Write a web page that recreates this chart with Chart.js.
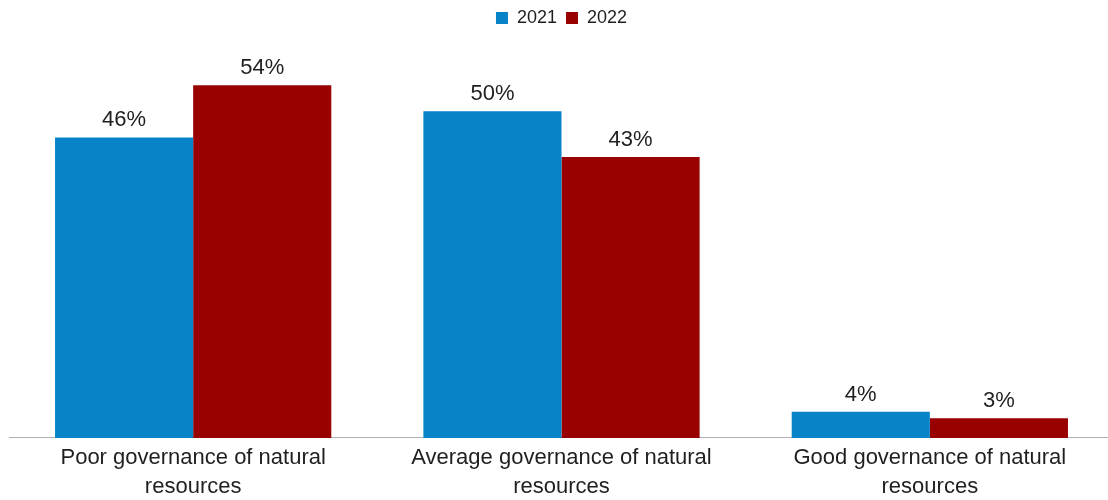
<!DOCTYPE html>
<html>
<head>
<meta charset="utf-8">
<script src="https://cdn.jsdelivr.net/npm/chart.js@4"></script>
<style>
    html, body { margin: 0; padding: 0; background: #fff; overflow: hidden; }
    #wrap { position: relative; width: 1114px; height: 500px; }
</style>
</head>
<body>
<div id="wrap"><canvas id="canvas"></canvas></div>
<script>
const categories = [
    ['Poor governance of natural', 'resources'],
    ['Average governance of natural', 'resources'],
    ['Good governance of natural', 'resources']
];
const years = ['2021', '2022'];
const values2021 = [46, 50, 4];
const values2022 = [54, 43, 3];

const fontFamily = '"Liberation Sans", Arial, sans-serif';
const textColor = '#1f1f1f';

// writes the percentage above every bar
const barLabels = {
    id: 'barLabels',
    afterDatasetsDraw(chart) {
        const ctx = chart.ctx;
        ctx.save();
        ctx.font = `22px ${fontFamily}`;
        ctx.fillStyle = textColor;
        ctx.textAlign = 'center';
        ctx.textBaseline = 'alphabetic';
        chart.data.datasets.forEach((ds, i) => {
            chart.getDatasetMeta(i).data.forEach((bar, j) => {
                ctx.fillText(`${ds.data[j]}%`, bar.x, bar.y - 11);
            });
        });
        ctx.restore();
    }
};

// a bit more room under the legend
const legendSpace = {
    id: 'legendSpace',
    beforeInit(chart) {
        const origFit = chart.legend.fit;
        chart.legend.fit = function () {
            origFit.bind(chart.legend)();
            this.height += 9;
        };
    }
};

const data = {
    labels: categories,
    datasets: [
        {
            label: years[0],
            backgroundColor: '#0784c7',
            data: values2021
        },
        {
            label: years[1],
            backgroundColor: '#990000',
            data: values2022
        }
    ]
};

const options = {
    animation: false,
    responsive: true,
    maintainAspectRatio: false,
    layout: {
        padding: { left: 9, right: 0, top: 0, bottom: -6 }
    },
    datasets: {
        bar: {
            categoryPercentage: 0.75,
            barPercentage: 1
        }
    },
    plugins: {
        legend: {
            position: 'top',
            labels: {
                boxWidth: 12,
                boxHeight: 12,
                padding: 9,
                color: textColor,
                font: { family: fontFamily, size: 18 }
            }
        },
        tooltip: { enabled: false }
    },
    scales: {
        x: {
            grid: { display: false, drawTicks: false },
            border: { display: true, color: '#b0b0b0', width: 1 },
            ticks: {
                color: textColor,
                padding: 5,
                font: { family: fontFamily, size: 22, lineHeight: 1.32 },
                maxRotation: 0,
                autoSkip: false
            }
        },
        y: {
            display: false,
            min: 0,
            max: 60
        }
    }
};

var ctx = document.getElementById('canvas').getContext('2d');

window.chart = new Chart(ctx, {
    type: 'bar',
    data: data,
    options: options,
    plugins: [barLabels, legendSpace]
});
</script>
</body>
</html>
